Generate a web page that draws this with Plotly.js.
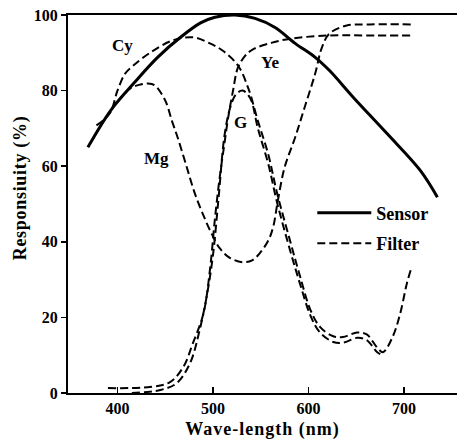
<!DOCTYPE html>
<html>
<head>
<meta charset="utf-8">
<script src="https://cdn.plot.ly/plotly-3.0.1.min.js"></script>
<style>html,body{margin:0;padding:0;background:#fff;}#chart{width:457px;height:442px;}</style>
</head>
<body>
<div id="chart"></div>
<script>
// Wavelength (nm) and responsivity (%)
const sensorWl  = [369, 393, 418, 442, 466, 487, 502, 523, 544, 565, 586, 607, 622, 647, 682, 717, 735];
const sensorVal = [65, 74.8, 82.2, 88.8, 94.1, 97.9, 99.4, 100, 99.1, 96.7, 92.5, 88.8, 85.3, 78.2, 68.7, 58.9, 51.8];

const cyWl  = [378, 392, 400, 408, 416, 434, 458, 479, 495, 510, 526, 537, 547, 558, 567, 581, 591, 602, 612, 626, 636, 651, 661, 672, 678, 688, 696, 703, 708];
const cyVal = [70.8, 74, 80, 84.5, 86.5, 90, 93.3, 94.1, 92.7, 90.6, 86.7, 80.6, 72, 63, 53, 40, 31, 22, 17.5, 15, 14.8, 16, 15.5, 12, 10.8, 14.8, 21, 29, 33.3];

const mgWl  = [400, 413, 424, 432, 439, 450, 457, 463, 472, 481, 490, 497, 507, 518, 531, 541, 549, 558, 563, 568, 575, 586, 596, 607, 614, 622, 640, 664, 709];
const mgVal = [77, 80.5, 81.6, 81.9, 81.4, 77.4, 72, 67.6, 60.2, 52.8, 47, 43, 38.3, 35.7, 34.6, 35.1, 37, 40.4, 43.9, 51, 59.7, 67.6, 75.6, 84.5, 91.4, 95.1, 97.2, 97.5, 97.5];

const yeWl  = [390, 434, 455, 469, 479, 490, 497, 502, 507, 512, 516, 521, 526, 533, 541, 562, 583, 622, 660, 709];
const yeVal = [1.3, 1.6, 2.9, 6.9, 13.2, 21, 33, 46, 57, 66, 73, 80, 86, 89, 90.8, 92.7, 93.8, 94.6, 94.6, 94.6];

const gWl  = [415, 445, 462, 476, 486, 494, 500, 506, 512, 518, 524, 531, 539, 547, 558, 567, 581, 591, 602, 612, 626, 636, 651, 661, 672, 678];
const gVal = [0, 0.8, 2.6, 7.9, 16.6, 26.4, 36.5, 52, 68, 75.5, 79, 80, 78, 70, 60.5, 50.5, 37.5, 29, 20.5, 16, 13.5, 13.3, 14.6, 14, 10.8, 10];

const xTicks = [400, 500, 600, 700];
const yTicks = [0, 20, 40, 60, 80, 100];

const filterLabels = [
  {text: 'Cy', x: 405, y: 92},
  {text: 'Mg', x: 441, y: 62},
  {text: 'G',  x: 529, y: 71.6},
  {text: 'Ye', x: 560, y: 87.4}
];

const serif = 'Liberation Serif, Times New Roman, serif';
const dashed = {color: '#000', width: 2, dash: '8px,4px', shape: 'spline', smoothing: 1};

const traces = [
  {x: sensorWl, y: sensorVal, name: 'Sensor', legendgroup: 's', mode: 'lines',
   line: {color: '#000', width: 3, shape: 'spline', smoothing: 1}},
  {x: cyWl, y: cyVal, name: 'Filter', legendgroup: 'f', mode: 'lines', line: dashed},
  {x: mgWl, y: mgVal, name: 'Mg', legendgroup: 'f', showlegend: false, mode: 'lines', line: dashed},
  {x: yeWl, y: yeVal, name: 'Ye', legendgroup: 'f', showlegend: false, mode: 'lines', line: dashed},
  {x: gWl, y: gVal, name: 'G', legendgroup: 'f', showlegend: false, mode: 'lines', line: dashed}
];

const layout = {
  width: 457, height: 442,
  margin: {l: 68, r: 0, t: 15, b: 49},
  paper_bgcolor: '#fff', plot_bgcolor: '#fff',
  font: {family: serif, color: '#000', size: 16, weight: 'bold'},
  showlegend: true,
  legend: {x: 0.628, y: 0.525, xanchor: 'left', yanchor: 'top', bgcolor: 'rgba(0,0,0,0)',
           font: {family: serif, size: 18, weight: 'bold', color: '#000'}, itemwidth: 54,
           traceorder: 'grouped', tracegroupgap: 4},
  xaxis: {range: [348.2, 755.5], tickvals: xTicks, ticktext: xTicks.map(String),
          showgrid: false, zeroline: false, showline: true, linewidth: 2, linecolor: '#000',
          mirror: true, ticks: 'inside', ticklen: 6, tickwidth: 1.5, tickcolor: '#000',
          tickfont: {family: serif, size: 16, weight: 'bold'},
          title: {text: '<span style="letter-spacing:1px">Wave-length (nm)</span>', standoff: 6,
                  font: {family: serif, size: 18, weight: 'bold'}}},
  yaxis: {range: [0, 100], tickvals: yTicks, ticktext: yTicks.map(String),
          showgrid: false, zeroline: false, showline: true, linewidth: 2, linecolor: '#000',
          ticks: 'outside', ticklen: 5, tickwidth: 1.5, tickcolor: '#000',
          tickfont: {family: serif, size: 16, weight: 'bold'}},
  annotations: filterLabels.map(l => ({x: l.x, y: l.y, xref: 'x', yref: 'y', text: l.text,
    showarrow: false, font: {family: serif, size: 17, weight: 'bold', color: '#000'}})).concat([
    {xref: 'paper', yref: 'paper', x: -0.123, y: 0.542, xanchor: 'center', yanchor: 'middle',
     textangle: -90, showarrow: false,
     text: '<span style="letter-spacing:0.7px">Responsiuity (%)</span>',
     font: {family: serif, size: 18, weight: 'bold', color: '#000'}}
  ])
};

Plotly.newPlot('chart', traces, layout, {displayModeBar: false, staticPlot: true});
</script>
</body>
</html>
